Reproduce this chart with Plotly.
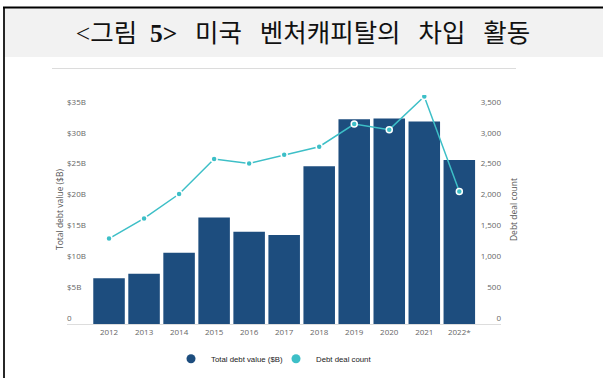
import plotly.graph_objects as go

years = ["2012", "2013", "2014", "2015", "2016", "2017", "2018", "2019", "2020", "2021", "2022*"]
debt_value_b = [7.4, 8.1, 11.5, 17.2, 14.9, 14.4, 25.5, 33.1, 33.2, 32.7, 26.5]
deal_count = [1380, 1705, 2100, 2665, 2595, 2735, 2865, 3230, 3140, 3675, 2140]

left_ticks = [0, 5, 10, 15, 20, 25, 30, 35]
left_ticktext = ["0", "$5B", "$10B", "$15B", "$20B", "$25B", "$30B", "$35B"]
right_ticks = [0, 500, 1000, 1500, 2000, 2500, 3000, 3500]

NAVY = "#1d4d7e"
TEAL = "#3dbfc7"
W, H = 603, 378
L, R, T, B = 67, 501, 95, 324

def px(x):
    return (x - L) / (R - L)

def py(y):
    return (B - y) / (B - T)

fig = go.Figure()
fig.add_trace(go.Bar(x=years, y=debt_value_b, marker=dict(color=NAVY, line=dict(width=0)),
                     name="Total debt value ($B)", showlegend=False, yaxis="y"))
fig.add_trace(go.Scatter(x=years, y=deal_count, mode="lines+markers", yaxis="y2",
                         line=dict(color=TEAL, width=1.5),
                         marker=dict(size=6, color=TEAL, line=dict(color="white", width=1.5)),
                         name="Debt deal count", showlegend=False))
# legend entries (circle symbols)
fig.add_trace(go.Scatter(x=[None], y=[None], mode="markers", name="Total debt value ($B)",
                         marker=dict(size=9, color=NAVY), yaxis="y"))
fig.add_trace(go.Scatter(x=[None], y=[None], mode="markers", name="Debt deal count",
                         marker=dict(size=9, color=TEAL), yaxis="y"))

tick_font = dict(family="Open Sans", size=8, color="#666666")
title_font = dict(family="Open Sans", size=8.5, color="#555555")

gap = "\u2002\u2009"
title_text = ('<span style="font-family:Liberation Serif">&lt;</span>그림\u2002'
              '<span style="font-family:Liberation Serif"><b>5&gt;</b></span>' + gap + '미국' + gap +
              '벤처캐피탈의' + gap + '차입' + gap + '활동')

fig.update_layout(
    width=W, height=H,
    margin=dict(l=L, r=W - R, t=T, b=H - B, pad=0, autoexpand=False),
    paper_bgcolor="white", plot_bgcolor="white",
    bargap=0.1,
    title=dict(text=title_text,
               x=303 / W, y=1 - 33 / H, xref="container", yref="container",
               xanchor="center", yanchor="middle",
               font=dict(family="Noto Sans CJK KR", size=25.5, color="#111111")),
    xaxis=dict(range=[-1.2, 11.19], showline=True, linecolor="#dddddd", linewidth=1,
               ticks="", showgrid=False, zeroline=False, tickfont=tick_font,
               automargin=False),
    yaxis=dict(range=[0, 37], tickvals=left_ticks, ticktext=left_ticktext, showgrid=False,
               zeroline=False, showline=False, ticks="", ticklabelposition="inside top",
               ticklabelstandoff=-3, automargin=False,
               tickfont=tick_font,
               title=dict(text="Total debt value ($B)", font=title_font, standoff=2)),
    yaxis2=dict(range=[0, 3700], tickvals=right_ticks, tickformat=",", overlaying="y",
                side="right", showgrid=False, zeroline=False, showline=False, ticks="",
                ticklabelposition="inside top", ticklabelstandoff=-3, automargin=False,
                tickfont=tick_font,
                title=dict(text="Debt deal count", font=title_font, standoff=10)),
    legend=dict(orientation="h", xref="container", yref="container",
                x=276 / W, xanchor="center", y=1 - 358.7 / H, yanchor="middle",
                font=dict(family="Liberation Sans", size=7.8, color="#222222"),
                itemwidth=30, entrywidth=60, bgcolor="rgba(0,0,0,0)"),
    shapes=[
        dict(type="rect", xref="paper", yref="paper", x0=px(4), x1=px(603), y0=py(57), y1=py(8),
             fillcolor="#f2f2f2", line=dict(width=0), layer="below"),
        dict(type="line", xref="paper", yref="paper", x0=px(3), x1=px(603), y0=py(7.5), y1=py(7.5),
             line=dict(color="black", width=2)),
        dict(type="line", xref="paper", yref="paper", x0=px(4), x1=px(4), y0=py(7), y1=py(378),
             line=dict(color="black", width=1.7)),
        dict(type="line", xref="paper", yref="paper", x0=px(52), x1=px(516), y0=py(68.5), y1=py(68.5),
             line=dict(color="#dcdcdc", width=1)),
    ],
)

fig.write_html("out.html")
